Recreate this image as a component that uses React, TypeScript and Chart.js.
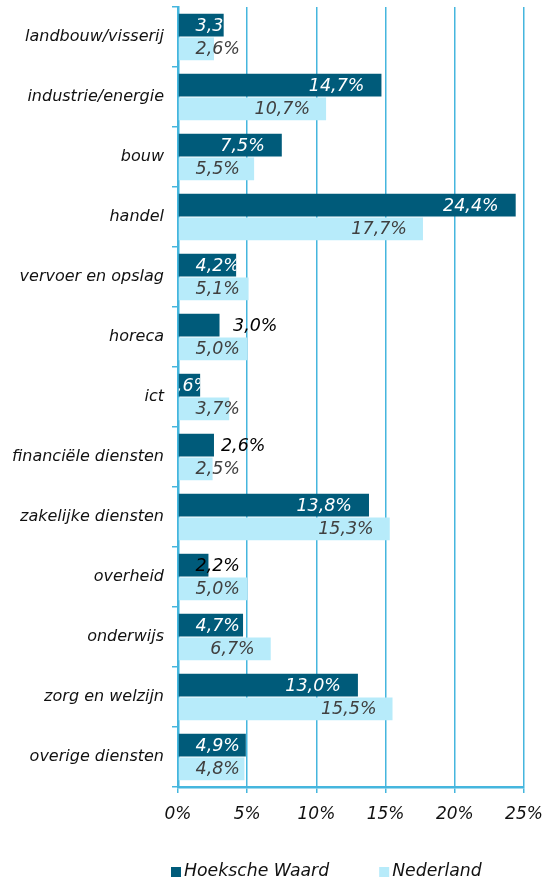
import React, { useEffect, useRef } from 'react';
import { Chart, registerables } from 'chart.js';

Chart.register(...registerables);

const categories = [
  'landbouw/visserij',
  'industrie/energie',
  'bouw',
  'handel',
  'vervoer en opslag',
  'horeca',
  'ict',
  'financiële diensten',
  'zakelijke diensten',
  'overheid',
  'onderwijs',
  'zorg en welzijn',
  'overige diensten',
];
const seriesNames = ['Hoeksche Waard', 'Nederland'];
const hoekscheWaard = [3.3, 14.7, 7.5, 24.4, 4.2, 3.0, 1.6, 2.6, 13.8, 2.2, 4.7, 13.0, 4.9];
const nederland = [2.6, 10.7, 5.5, 17.7, 5.1, 5.0, 3.7, 2.5, 15.3, 5.0, 6.7, 15.5, 4.8];
const xMin = 0;
const xMax = 25;
const xStep = 5;

const FONT = '"DejaVu Sans", Verdana, sans-serif';
const DARK = '#005B7A';
const LIGHT = '#B7EBFA';
const GRID = '#45B6DE';

// per-bar label styling for the first series (exceptions from the default)
const hwLabelStyle: Record<number, { color: string; after?: number; rightNudge?: number; clip: boolean }> = {
  5: { color: '#000000', after: 13.5, clip: false },
  6: { color: '#FFFFFF', rightNudge: 10, clip: true },
  7: { color: '#000000', after: 7, clip: false },
  9: { color: '#000000', clip: false },
};

const fmt = (v: number) => v.toFixed(1).replace('.', ',') + '%';

const valueLabels = {
  id: 'valueLabels',
  afterDatasetsDraw(chart: any) {
    const ctx = chart.ctx;
    const area = chart.chartArea;
    ctx.save();
    ctx.font = `italic 17.5px ${FONT}`;
    ctx.textBaseline = 'middle';
    chart.data.datasets.forEach((ds: any, di: number) => {
      const meta = chart.getDatasetMeta(di);
      meta.data.forEach((bar: any, i: number) => {
        const v = ds.data[i] as number;
        const text = fmt(v);
        const { x, y, base, height } = bar.getProps(['x', 'y', 'base', 'height'], true);
        const minRight = area.left + 62;
        if (di === 0) {
          const st = hwLabelStyle[i] || { color: '#FFFFFF', clip: true };
          ctx.save();
          ctx.fillStyle = st.color;
          if (st.clip) {
            ctx.beginPath();
            ctx.rect(base, y - height / 2, x - base, height);
            ctx.clip();
          }
          if (st.after !== undefined) {
            ctx.textAlign = 'left';
            ctx.fillText(text, x + st.after, y + 1);
          } else {
            const right = st.rightNudge !== undefined ? x + st.rightNudge : Math.max(x - 17, minRight);
            ctx.textAlign = 'right';
            ctx.fillText(text, right, y + 1);
          }
          ctx.restore();
        } else {
          ctx.fillStyle = '#404040';
          ctx.textAlign = 'right';
          ctx.fillText(text, Math.max(x - 16, minRight), y + 1);
        }
      });
    });
    ctx.restore();
  },
};

const customLegend = {
  id: 'customLegend',
  afterDraw(chart: any) {
    const ctx = chart.ctx;
    ctx.save();
    ctx.font = `italic 17.3px ${FONT}`;
    ctx.textBaseline = 'middle';
    ctx.textAlign = 'left';
    let x = 171;
    const yc = 872;
    chart.data.datasets.forEach((ds: any) => {
      ctx.fillStyle = ds.backgroundColor;
      ctx.fillRect(x, yc - 5, 10, 10);
      ctx.fillStyle = '#111111';
      ctx.fillText(ds.label, x + 13, yc);
      x += 13 + ctx.measureText(ds.label).width + 50;
    });
    ctx.restore();
  },
};

export default function App() {
  const ref = useRef<HTMLCanvasElement | null>(null);
  useEffect(() => {
    if (!ref.current) return;
    const chart = new Chart(ref.current, {
      type: 'bar',
      data: {
        labels: categories,
        datasets: [
          { label: seriesNames[0], data: hoekscheWaard, backgroundColor: DARK, borderWidth: 0 },
          { label: seriesNames[1], data: nederland, backgroundColor: LIGHT, borderWidth: 0 },
        ],
      },
      options: {
        indexAxis: 'y',
        responsive: false,
        animation: false,
        devicePixelRatio: 1,
        categoryPercentage: 0.79,
        barPercentage: 0.96,
        layout: { padding: { top: 7, right: 23, bottom: 0, left: 0 } },
        plugins: {
          legend: { display: false },
          tooltip: { enabled: false },
        },
        scales: {
          x: {
            min: xMin,
            max: xMax,
            position: 'bottom',
            afterFit: (scale: any) => {
              scale.height = 97;
              scale.paddingLeft = 0;
              scale.paddingRight = 0;
            },
            ticks: {
              stepSize: xStep,
              callback: (v: any) => `${v}%`,
              color: '#111111',
              font: { family: FONT, size: 17, style: 'italic' },
              padding: 11,
              maxRotation: 0,
            },
            grid: {
              color: GRID,
              lineWidth: 1.5,
              drawTicks: true,
              tickLength: 6,
              tickColor: GRID,
            },
            border: { color: GRID, width: 2.5 },
          },
          y: {
            afterFit: (scale: any) => {
              scale.width = 178;
              scale.paddingTop = 0;
              scale.paddingBottom = 0;
            },
            ticks: {
              color: '#111111',
              font: { family: FONT, size: 16, style: 'italic' },
              padding: 8,
            },
            grid: {
              drawOnChartArea: false,
              drawTicks: true,
              tickLength: 6,
              tickColor: GRID,
              lineWidth: 1.5,
              offset: true,
            },
            border: { color: GRID, width: 2.5 },
          },
        },
      },
      plugins: [valueLabels, customLegend],
    } as any);
    return () => chart.destroy();
  }, []);
  return (
    <div style={{ position: 'absolute', left: 0, top: 0, width: 547, height: 884, background: '#fff' }}>
      <canvas ref={ref} width={547} height={884} style={{ display: 'block' }} />
    </div>
  );
}
